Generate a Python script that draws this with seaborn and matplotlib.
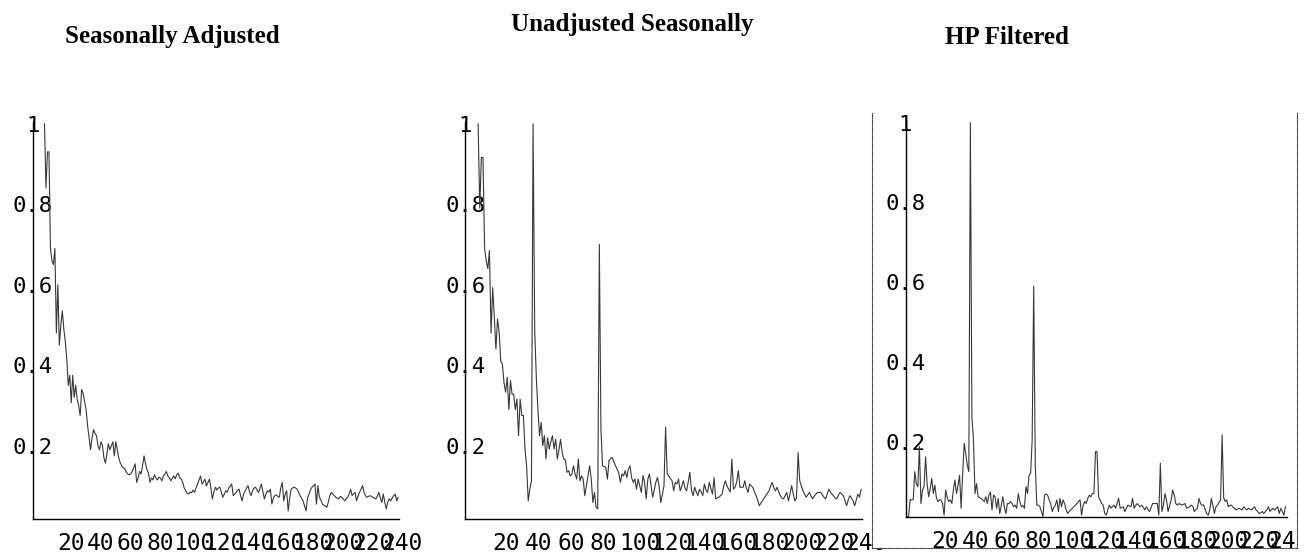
import numpy as np
import pandas as pd
import seaborn as sns
import matplotlib
matplotlib.use("Agg")
import matplotlib.pyplot as plt
from matplotlib.ticker import MultipleLocator
from matplotlib.transforms import ScaledTranslation

# ---------------------------------------------------------------------------
# Normalised periodogram ordinates (frequency index -> relative power)
# ---------------------------------------------------------------------------
adjusted_start = 8
adjusted = [
    1.00, 0.84, 0.93, 0.93, 0.69, 0.66, 0.65, 0.69, 0.48, 0.60,
    0.45, 0.50, 0.535, 0.49, 0.46, 0.415, 0.35, 0.375, 0.307, 0.375,
    0.32, 0.35, 0.315, 0.30, 0.275, 0.34, 0.33, 0.31, 0.29, 0.25,
    0.22, 0.19, 0.22, 0.24, 0.23, 0.225, 0.20, 0.19, 0.21, 0.20,
    0.17, 0.157, 0.18, 0.205, 0.19, 0.20, 0.21, 0.175, 0.21, 0.19,
    0.17, 0.157, 0.15, 0.145, 0.143, 0.135, 0.13, 0.128, 0.13, 0.136,
    0.145, 0.155, 0.109, 0.12, 0.136, 0.13, 0.15, 0.175, 0.155, 0.14,
    0.132, 0.109, 0.12, 0.115, 0.128, 0.12, 0.115, 0.122, 0.12, 0.113,
    0.125, 0.13, 0.136, 0.125, 0.12, 0.113, 0.12, 0.125, 0.118, 0.128,
    0.132, 0.12, 0.118, 0.109, 0.095, 0.088, 0.082, 0.08, 0.085, 0.083,
    0.09, 0.084, 0.095, 0.105, 0.115, 0.125, 0.105, 0.11, 0.117, 0.10,
    0.109, 0.117, 0.095, 0.068, 0.085, 0.097, 0.09, 0.095, 0.097, 0.085,
    0.072, 0.08, 0.088, 0.085, 0.095, 0.10, 0.105, 0.076, 0.08, 0.084,
    0.09, 0.092, 0.075, 0.063, 0.08, 0.088, 0.095, 0.101, 0.085, 0.076,
    0.088, 0.095, 0.097, 0.09, 0.084, 0.095, 0.105, 0.085, 0.068, 0.08,
    0.088, 0.085, 0.092, 0.055, 0.07, 0.076, 0.078, 0.074, 0.072, 0.095,
    0.109, 0.063, 0.08, 0.088, 0.038, 0.07, 0.092, 0.095, 0.097, 0.095,
    0.092, 0.085, 0.076, 0.07, 0.063, 0.05, 0.038, 0.07, 0.08, 0.09,
    0.097, 0.10, 0.105, 0.055, 0.101, 0.072, 0.065, 0.055, 0.052, 0.05,
    0.047, 0.06, 0.076, 0.084, 0.08, 0.076, 0.072, 0.07, 0.068, 0.074,
    0.072, 0.068, 0.063, 0.068, 0.072, 0.08, 0.092, 0.076, 0.08, 0.084,
    0.063, 0.075, 0.084, 0.092, 0.101, 0.085, 0.076, 0.072, 0.074, 0.076,
    0.074, 0.072, 0.07, 0.068, 0.075, 0.084, 0.07, 0.059, 0.08, 0.06,
    0.043, 0.06, 0.068, 0.063, 0.07, 0.076, 0.08, 0.063, 0.072,
]

unadjusted_start = 8
unadjusted = [
    1.00, 0.79, 0.916, 0.916, 0.69, 0.66, 0.64, 0.685, 0.48, 0.593,
    0.52, 0.44, 0.515, 0.482, 0.41, 0.403, 0.357, 0.333, 0.37, 0.29,
    0.362, 0.328, 0.328, 0.29, 0.316, 0.225, 0.316, 0.275, 0.275, 0.192,
    0.15, 0.063, 0.092, 0.113, 1.00, 0.49, 0.37, 0.29, 0.225, 0.258,
    0.20, 0.225, 0.167, 0.22, 0.192, 0.21, 0.225, 0.192, 0.216, 0.167,
    0.19, 0.216, 0.183, 0.167, 0.165, 0.134, 0.138, 0.125, 0.13, 0.15,
    0.13, 0.117, 0.167, 0.113, 0.125, 0.117, 0.076, 0.10, 0.125, 0.15,
    0.117, 0.059, 0.084, 0.047, 0.043, 0.70, 0.241, 0.15, 0.148, 0.146,
    0.117, 0.163, 0.168, 0.171, 0.16, 0.15, 0.142, 0.133, 0.109, 0.13,
    0.125, 0.138, 0.121, 0.142, 0.15, 0.12, 0.109, 0.117, 0.092, 0.117,
    0.10, 0.084, 0.126, 0.109, 0.068, 0.117, 0.13, 0.10, 0.072, 0.09,
    0.11, 0.121, 0.10, 0.059, 0.08, 0.10, 0.246, 0.13, 0.125, 0.118,
    0.113, 0.088, 0.109, 0.105, 0.117, 0.088, 0.10, 0.113, 0.095, 0.088,
    0.11, 0.134, 0.09, 0.076, 0.097, 0.085, 0.076, 0.092, 0.085, 0.076,
    0.105, 0.09, 0.084, 0.109, 0.095, 0.08, 0.121, 0.068, 0.07, 0.072,
    0.076, 0.08, 0.10, 0.113, 0.10, 0.092, 0.085, 0.167, 0.092, 0.097,
    0.11, 0.138, 0.097, 0.097, 0.097, 0.113, 0.095, 0.084, 0.105, 0.10,
    0.097, 0.085, 0.076, 0.065, 0.051, 0.058, 0.063, 0.07, 0.076, 0.082,
    0.088, 0.10, 0.109, 0.095, 0.088, 0.097, 0.085, 0.076, 0.07, 0.068,
    0.076, 0.084, 0.063, 0.08, 0.101, 0.08, 0.063, 0.07, 0.183, 0.113,
    0.10, 0.088, 0.08, 0.072, 0.078, 0.084, 0.075, 0.068, 0.075, 0.08,
    0.084, 0.084, 0.084, 0.078, 0.072, 0.068, 0.08, 0.092, 0.085, 0.08,
    0.075, 0.07, 0.068, 0.078, 0.084, 0.08, 0.076, 0.063, 0.051, 0.065,
    0.076, 0.07, 0.063, 0.051, 0.065, 0.08, 0.072, 0.092,
]

hp_start = 1
hp_filtered = [
    0.012, 0.012, 0.055, 0.054, 0.055, 0.125, 0.095, 0.087, 0.188, 0.045,
    0.079, 0.087, 0.162, 0.095, 0.062, 0.083, 0.108, 0.07, 0.091, 0.06,
    0.05, 0.054, 0.054, 0.045, 0.016, 0.079, 0.06, 0.05, 0.054, 0.045,
    0.079, 0.104, 0.07, 0.09, 0.116, 0.033, 0.12, 0.196, 0.17, 0.141,
    0.125, 1.00, 0.263, 0.204, 0.07, 0.095, 0.062, 0.06, 0.058, 0.054,
    0.05, 0.062, 0.045, 0.066, 0.074, 0.029, 0.066, 0.062, 0.033, 0.058,
    0.02, 0.04, 0.062, 0.037, 0.02, 0.045, 0.045, 0.05, 0.045, 0.037,
    0.041, 0.033, 0.07, 0.05, 0.037, 0.04, 0.033, 0.087, 0.07, 0.116,
    0.121, 0.204, 0.59, 0.146, 0.041, 0.041, 0.037, 0.025, 0.012, 0.066,
    0.069, 0.066, 0.055, 0.045, 0.025, 0.035, 0.041, 0.054, 0.025, 0.058,
    0.037, 0.054, 0.045, 0.029, 0.02, 0.025, 0.029, 0.033, 0.037, 0.041,
    0.045, 0.05, 0.054, 0.016, 0.041, 0.05, 0.045, 0.058, 0.066, 0.062,
    0.07, 0.07, 0.175, 0.175, 0.062, 0.054, 0.045, 0.041, 0.02, 0.016,
    0.03, 0.041, 0.033, 0.038, 0.041, 0.033, 0.045, 0.058, 0.033, 0.035,
    0.037, 0.025, 0.033, 0.041, 0.039, 0.037, 0.058, 0.033, 0.04, 0.045,
    0.04, 0.037, 0.041, 0.035, 0.029, 0.037, 0.03, 0.025, 0.035, 0.045,
    0.045, 0.045, 0.045, 0.016, 0.146, 0.025, 0.041, 0.07, 0.054, 0.025,
    0.04, 0.054, 0.079, 0.066, 0.045, 0.041, 0.045, 0.043, 0.041, 0.043,
    0.045, 0.033, 0.035, 0.037, 0.041, 0.038, 0.025, 0.03, 0.033, 0.058,
    0.045, 0.041, 0.041, 0.03, 0.02, 0.016, 0.029, 0.058, 0.04, 0.02,
    0.037, 0.041, 0.048, 0.054, 0.217, 0.06, 0.05, 0.054, 0.037, 0.04,
    0.041, 0.036, 0.033, 0.029, 0.031, 0.033, 0.031, 0.029, 0.037, 0.033,
    0.029, 0.033, 0.031, 0.029, 0.033, 0.037, 0.029, 0.025, 0.02, 0.022,
    0.025, 0.02, 0.025, 0.029, 0.037, 0.025, 0.03, 0.033, 0.029, 0.033,
    0.037, 0.02, 0.033, 0.025, 0.016, 0.038,
]

titles = ["Seasonally Adjusted", "Unadjusted Seasonally", "HP Filtered"]
x_ticks = [20, 40, 60, 80, 100, 120, 140, 160, 180, 200, 220, 240]
x_tick_labels = [str(t) for t in x_ticks]
y_ticks = [0.2, 0.4, 0.6, 0.8, 1.0]
y_tick_labels = ["0.2", "0.4", "0.6", "0.8", "1"]

# ---------------------------------------------------------------------------
# Figure layout (pixel geometry of a 1315 x 554 canvas)
# ---------------------------------------------------------------------------
W, H = 1315, 554
DPI = 100

sns.set_theme(style="white")
plt.rcParams["font.family"] = ["DejaVu Sans Mono", "DejaVu Sans"]

fig = plt.figure(figsize=(W / DPI, H / DPI), dpi=DPI, facecolor="white")


def px_axes(left, top, right, bottom, **kw):
    return fig.add_axes([left / W, 1 - bottom / H, (right - left) / W, (bottom - top) / H], **kw)


panels = [
    # series, first index, axes box (l, t, r, b) in px, x-limits, y-limits
    dict(y=adjusted, start=adjusted_start, box=(32.6, 122.5, 398.6, 519.0),
         xlim=(0, 246.3), ylim=(0.018, 1.003)),
    dict(y=unadjusted, start=unadjusted_start, box=(465.2, 122.5, 862.1, 519.0),
         xlim=(0, 245.6), ylim=(0.018, 1.003)),
    dict(y=hp_filtered, start=hp_start, box=(905.5, 121.5, 1287.0, 516.7),
         xlim=(0, 247.0), ylim=(0.012, 1.003)),
]

LINE_COLOR = "#383838"
axes = []
frame = None
for i, p in enumerate(panels):
    if i == 2:
        # dotted box around the third graphic; it also masks overflow from the middle panel
        frame = px_axes(872, 113, 1297, 548)
        frame.set_facecolor("white")
        frame.set_xticks([])
        frame.set_yticks([])
        for side in ("left", "right", "bottom"):
            frame.spines[side].set_linestyle((0, (1.2, 1.2)))
            frame.spines[side].set_linewidth(0.8)
            frame.spines[side].set_color("#444444")
        frame.spines["top"].set_visible(False)

    ax = px_axes(*p["box"])
    ax.patch.set_visible(False)
    df = pd.DataFrame({"k": np.arange(p["start"], p["start"] + len(p["y"])), "power": p["y"]})
    sns.lineplot(data=df, x="k", y="power", ax=ax, color=LINE_COLOR, linewidth=0.8)
    ax.set_xlim(*p["xlim"])
    ax.set_ylim(*p["ylim"])
    ax.set_xlabel("")
    ax.set_ylabel("")

    for side in ("top", "right"):
        ax.spines[side].set_visible(False)
    for side in ("left", "bottom"):
        ax.spines[side].set_color("black")
        ax.spines[side].set_linewidth(1.0)

    ax.set_xticks(x_ticks, labels=x_tick_labels)
    ax.set_yticks(y_ticks, labels=y_tick_labels)
    ax.yaxis.set_minor_locator(MultipleLocator(0.05))
    ax.tick_params(axis="both", which="both", direction="in", color="black", width=0.8)
    ax.tick_params(axis="x", which="major", length=2.4, pad=9.4, labelsize=16.5, labelcolor="black")
    ax.tick_params(axis="y", which="major", length=3.4, pad=0, labelsize=16, labelcolor="black")
    ax.tick_params(axis="y", which="minor", length=2.0)

    for lab in ax.get_yticklabels():
        lab.set_ha("center")
    for lab in ax.get_xticklabels():
        n = len(lab.get_text())
        lab.set_ha("left")
        lab.set_transform(lab.get_transform() + ScaledTranslation(-n * 2.5 / DPI, 0, fig.dpi_scale_trans))

    if frame is not None and i == 2:
        for lab in ax.get_xticklabels() + ax.get_yticklabels():
            lab.set_clip_box(frame.bbox)
            lab.set_clip_on(True)
    axes.append(ax)

# panel headings
title_pos = [(172, 43), (632, 31), (1007, 44)]
for t, (x, y) in zip(titles, title_pos):
    fig.text(x / W, 1 - y / H, t, ha="center", va="baseline",
             family=["Liberation Serif", "DejaVu Serif"], weight="bold", size=18, color="black")

fig.savefig("out.png", dpi=DPI, facecolor="white")
